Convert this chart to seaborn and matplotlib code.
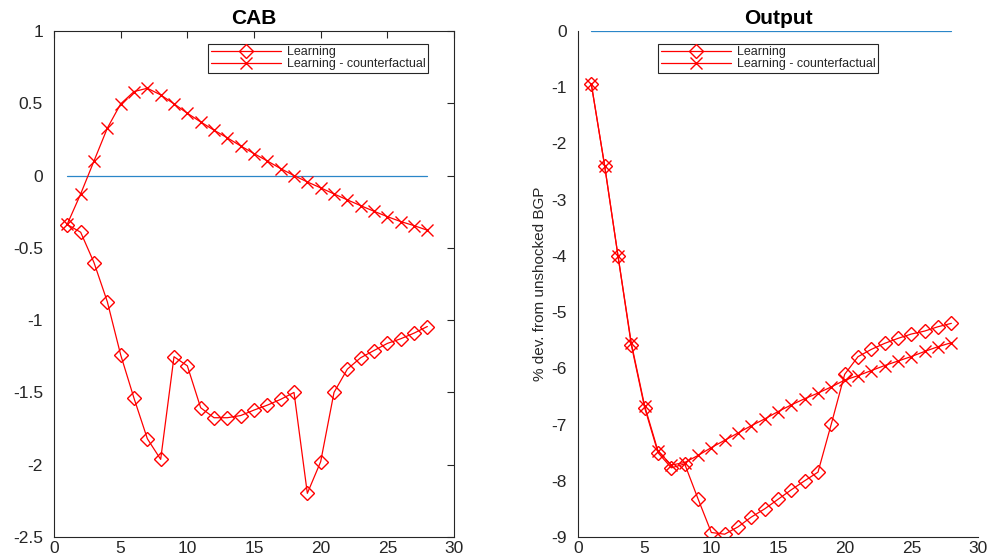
import numpy as np
import pandas as pd
import matplotlib
matplotlib.use("Agg")
import matplotlib.pyplot as plt
import seaborn as sns

periods = list(range(1, 29))

cab_learning = [-0.339, -0.392, -0.602, -0.873, -1.24, -1.54, -1.82, -1.963,
                -1.253, -1.316, -1.606, -1.675, -1.675, -1.66, -1.622, -1.588,
                -1.548, -1.50, -2.198, -1.979, -1.50, -1.339, -1.26, -1.21,
                -1.161, -1.129, -1.09, -1.044]
cab_counterfactual = [-0.335, -0.127, 0.101, 0.328, 0.496, 0.581, 0.604, 0.558,
                      0.496, 0.431, 0.371, 0.314, 0.261, 0.205, 0.152, 0.101,
                      0.048, 0.0, -0.044, -0.085, -0.127, -0.168, -0.208, -0.247,
                      -0.284, -0.318, -0.346, -0.378]

output_learning = [-0.947, -2.40, -4.0, -5.586, -6.70, -7.50, -7.77, -7.70,
                   -8.32, -8.92, -8.95, -8.82, -8.645, -8.50, -8.33, -8.16,
                   -8.0, -7.846, -6.988, -6.107, -5.793, -5.663, -5.556, -5.467,
                   -5.39, -5.337, -5.26, -5.20]
output_counterfactual = [-0.947, -2.40, -4.0, -5.556, -6.67, -7.47, -7.72, -7.675,
                         -7.55, -7.41, -7.28, -7.15, -7.02, -6.90, -6.77, -6.65,
                         -6.54, -6.44, -6.33, -6.21, -6.13, -6.04, -5.95, -5.87,
                         -5.79, -5.70, -5.615, -5.544]

baseline = [0.0] * len(periods)

series_labels = ["Learning", "Learning - counterfactual"]

sns.set_style("white")
plt.rcParams["font.family"] = ["Liberation Sans", "DejaVu Sans"]
plt.rcParams["axes.unicode_minus"] = False

fig = plt.figure(figsize=(9.89, 5.6), dpi=100)
ax1 = fig.add_axes([54 / 989, 1 - 537 / 560, 400 / 989, 506 / 560])
ax2 = fig.add_axes([578 / 989, 1 - 537 / 560, 400 / 989, 506 / 560])

red = "#ff0000"
blue = "#2a86c8"
edge = "#262626"


def draw_panel(ax, learning, counterfactual):
    df = pd.DataFrame({"t": periods, "learn": learning,
                       "cf": counterfactual, "zero": baseline})
    sns.lineplot(data=df, x="t", y="zero", ax=ax, color=blue, lw=0.9,
                 label="_nolegend_")
    sns.lineplot(data=df, x="t", y="learn", ax=ax, color=red, lw=0.9,
                 marker="D", markersize=7, markerfacecolor="none",
                 markeredgecolor=red, markeredgewidth=1.0,
                 label=series_labels[0])
    sns.lineplot(data=df, x="t", y="cf", ax=ax, color=red, lw=0.9,
                 marker="x", markersize=9, markeredgecolor=red,
                 markeredgewidth=1.0, label=series_labels[1])
    ax.set_xlim(0, 30)
    ax.set_xticks([0, 5, 10, 15, 20, 25, 30])
    ax.tick_params(direction="in", length=5, width=0.8, colors=edge,
                   labelsize=12.5, labelcolor="#262626")
    ax.tick_params(axis="y", pad=8)
    ax.tick_params(axis="x", pad=3)
    for s in ax.spines.values():
        s.set_color(edge)
        s.set_linewidth(0.8)


draw_panel(ax1, cab_learning, cab_counterfactual)
ax1.set_ylim(-2.5, 1)
ax1.set_yticks([-2.5, -2, -1.5, -1, -0.5, 0, 0.5, 1])
ax1.set_yticklabels(["-2.5", "-2", "-1.5", "-1", "-0.5", "0", "0.5", "1"])
ax1.tick_params(top=True, right=True)
ax1.set_xlabel("")
ax1.set_ylabel("")
ax1.set_title("CAB", fontsize=15, fontweight="bold", color="black", pad=5)

draw_panel(ax2, output_learning, output_counterfactual)
ax2.set_ylim(-9, 0)
ax2.set_yticks(list(range(-9, 1)))
ax2.set_xlabel("")
ax2.set_ylabel("% dev. from unshocked BGP", fontsize=11, color="#262626",
               labelpad=3)
ax2.spines["top"].set_visible(False)
ax2.spines["right"].set_visible(False)
ax2.set_title("Output", fontsize=15, fontweight="bold", color="black", pad=5)

for ax, anchor in ((ax1, (0.385, 0.975)), (ax2, (0.2, 0.975))):
    leg = ax.legend(loc="upper left", bbox_to_anchor=anchor, fontsize=9,
                    handlelength=5.6, frameon=True, fancybox=False,
                    borderpad=0.2, labelspacing=0.0, handletextpad=0.5,
                    borderaxespad=0)
    leg.get_frame().set_edgecolor(edge)
    leg.get_frame().set_linewidth(0.8)
    leg.get_frame().set_alpha(1)

fig.savefig("out.png", dpi=100)
